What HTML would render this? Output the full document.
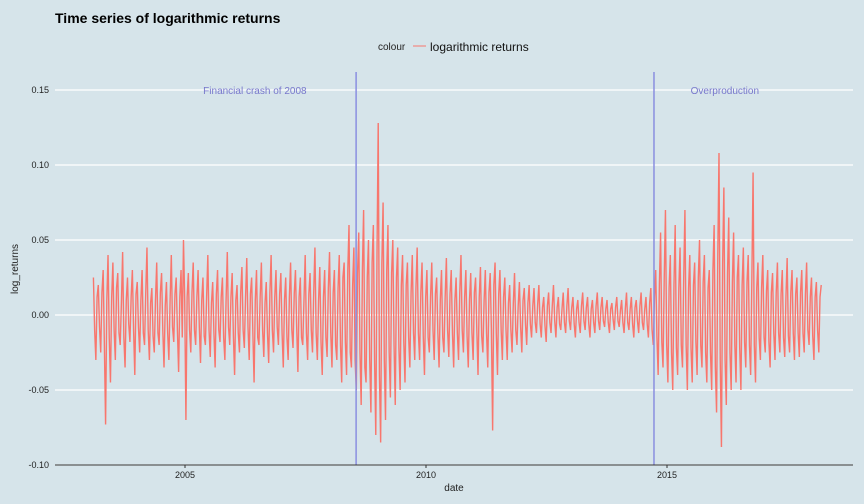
<!DOCTYPE html>
<html><head><meta charset="utf-8"><style>
body{margin:0;background:#d6e4ea;font-family:"Liberation Sans",sans-serif}
svg{display:block}
</style></head><body>
<svg id="c" width="864" height="504">
<rect width="864" height="504" fill="#d6e4ea"/>
<text x="55" y="23" font-size="14" font-weight="bold" fill="#000">Time series of logarithmic returns</text>
<g>
<text x="378" y="50" font-size="10" fill="#222">colour</text>
<line x1="413" y1="46" x2="426" y2="46" stroke="#f8766d" stroke-width="1"/>
<text x="430" y="51" font-size="12" fill="#111">logarithmic returns</text>
</g>
<g id="grid"></g><g id="series"></g><g id="ann"></g><g id="axes"></g>
<text x="454" y="491" font-size="10" text-anchor="middle" fill="#222">date</text>
<text transform="translate(18,269) rotate(-90)" font-size="10" text-anchor="middle" fill="#222">log_returns</text>
</svg>
<script>
const startYear=2003.1, endYear=2018.2;
const yTicks=[0.15,0.10,0.05,0.00,-0.05,-0.10];
const yTickLabels=["0.15","0.10","0.05","0.00","-0.05","-0.10"];
const xTicks=[2005,2010,2015];
const eventYears=[2008.55,2014.73];
const eventLabels=["Financial crash of 2008","Overproduction"];
const eventLabelYears=[2006.45,2016.2];
const returns=[0.025,-0.03,0.02,-0.025,0.03,-0.073,0.04,-0.045,0.035,-0.03,
0.028,-0.02,0.042,-0.035,0.025,-0.018,0.03,-0.04,0.022,-0.025,
0.03,-0.02,0.045,-0.03,0.018,-0.025,0.035,-0.02,0.028,-0.035,
0.022,-0.03,0.04,-0.018,0.025,-0.038,0.03,0.05,-0.07,0.028,
-0.025,0.035,-0.02,0.03,-0.032,0.025,-0.02,0.04,-0.028,0.022,
-0.035,0.03,-0.018,0.025,-0.03,0.042,-0.02,0.028,-0.04,0.02,
-0.025,0.032,-0.022,0.038,-0.03,0.025,-0.045,0.03,-0.02,0.035,
-0.028,0.022,-0.032,0.04,-0.025,0.03,-0.02,0.028,-0.035,0.025,
-0.03,0.035,-0.022,0.03,-0.038,0.025,-0.02,0.04,-0.03,0.028,
-0.025,0.045,-0.03,0.032,-0.04,0.03,-0.028,0.042,-0.035,0.03,
-0.03,0.04,-0.045,0.035,-0.04,0.06,-0.035,0.045,-0.05,0.055,
-0.06,0.07,-0.045,0.05,-0.065,0.06,-0.08,0.128,-0.085,0.075,
-0.07,0.06,-0.055,0.05,-0.06,0.045,-0.05,0.04,-0.045,0.035,
-0.035,0.04,-0.03,0.045,-0.03,0.035,-0.04,0.03,-0.025,0.035,
-0.03,0.025,-0.035,0.03,-0.025,0.038,-0.028,0.03,-0.035,0.025,
-0.03,0.04,-0.025,0.03,-0.035,0.028,-0.03,0.025,-0.04,0.032,
-0.025,0.03,-0.035,0.028,-0.077,0.035,-0.04,0.03,-0.03,0.025,
-0.03,0.02,-0.025,0.028,-0.02,0.022,-0.025,0.018,-0.02,0.02,
-0.015,0.018,-0.012,0.02,-0.015,0.012,-0.018,0.015,-0.012,0.02,
-0.015,0.012,-0.01,0.015,-0.012,0.018,-0.01,0.012,-0.015,0.01,
-0.012,0.015,-0.01,0.012,-0.015,0.01,-0.012,0.015,-0.01,0.012,
-0.008,0.01,-0.012,0.008,-0.01,0.012,-0.008,0.01,-0.012,0.015,
-0.01,0.012,-0.015,0.01,-0.012,0.015,-0.01,0.012,-0.015,0.018,
-0.02,0.03,-0.04,0.055,-0.035,0.07,-0.045,0.04,-0.05,0.06,
-0.04,0.045,-0.035,0.07,-0.05,0.04,-0.045,0.035,-0.04,0.05,
-0.035,0.04,-0.045,0.03,-0.05,0.06,-0.065,0.108,-0.088,0.085,
-0.06,0.065,-0.05,0.055,-0.045,0.04,-0.05,0.045,-0.035,0.04,
-0.04,0.095,-0.045,0.035,-0.03,0.04,-0.025,0.03,-0.035,0.028,
-0.03,0.035,-0.025,0.03,-0.028,0.038,-0.025,0.03,-0.03,0.025,
-0.028,0.03,-0.025,0.035,-0.02,0.025,-0.03,0.022,-0.025,0.02];
const returnsMid=[-0.01,0.012,-0.008,0.015,-0.02,0.01,-0.015,0.012,-0.01,0.018,
-0.012,0.008,-0.015,0.01,-0.006,0.012,-0.01,0.014,-0.008,0.01,
-0.012,0.015,-0.01,0.008,-0.014,0.01,-0.012,0.015,-0.01,0.006,
-0.012,0.01,-0.008,0.014,-0.01,0.012,-0.015,0.01,0.012,-0.01,
0.015,-0.01,0.012,-0.008,0.01,-0.014,0.012,-0.01,0.008,-0.012,
0.014,-0.01,0.012,-0.015,0.01,-0.008,0.012,-0.014,0.01,-0.012,
0.015,-0.01,0.012,-0.008,0.014,-0.012,0.01,-0.015,0.012,-0.01,
0.008,-0.012,0.015,-0.01,0.012,-0.008,0.014,-0.012,0.01,-0.015,
0.012,-0.01,0.014,-0.008,0.012,-0.015,0.01,-0.012,0.014,-0.01,
0.015,-0.012,0.01,-0.018,0.012,-0.015,0.018,-0.012,0.015,-0.02,
0.018,-0.02,0.025,-0.018,0.03,-0.025,0.02,-0.03,0.028,-0.025,
0.03,-0.035,0.025,-0.03,0.035,-0.03,0.04,-0.04,0.035,-0.03,
0.03,-0.025,0.028,-0.02,0.025,-0.022,0.02,-0.018,0.02,-0.015,
0.015,-0.012,0.018,-0.012,0.015,-0.014,0.012,-0.015,0.012,-0.01,
0.014,-0.012,0.01,-0.015,0.012,-0.01,0.014,-0.012,0.01,-0.012,
0.015,-0.01,0.012,-0.014,0.01,-0.012,0.015,-0.01,0.012,-0.014,
0.01,-0.012,0.015,-0.01,0.02,-0.012,0.014,-0.01,0.012,-0.01,
0.008,-0.01,0.008,-0.01,0.006,-0.008,0.01,-0.006,0.008,-0.006,
0.006,-0.005,0.007,-0.006,0.005,-0.007,0.006,-0.005,0.006,-0.004,
0.005,-0.006,0.004,-0.005,0.006,-0.004,0.005,-0.006,0.004,-0.005,
0.006,-0.004,0.005,-0.006,0.004,-0.005,0.006,-0.004,0.005,-0.004,
0.004,-0.005,0.004,-0.003,0.005,-0.004,0.003,-0.005,0.004,-0.005,
0.004,-0.006,0.005,-0.004,0.006,-0.005,0.004,-0.006,0.008,-0.01,
0.012,-0.015,0.02,-0.018,0.025,-0.02,0.018,-0.025,0.02,-0.022,
0.018,-0.02,0.025,-0.02,0.018,-0.022,0.02,-0.018,0.025,-0.02,
0.022,-0.025,0.018,-0.025,0.03,-0.035,0.04,-0.03,0.035,-0.03,
0.028,-0.025,0.022,-0.02,0.025,-0.022,0.02,-0.018,0.022,-0.02,
0.025,-0.02,0.018,-0.015,0.018,-0.015,0.016,-0.018,0.015,-0.012,
0.015,-0.012,0.014,-0.015,0.012,-0.014,0.015,-0.012,0.014,-0.012,
0.015,-0.012,0.014,-0.01,0.012,-0.014,0.012,-0.01,0.012,-0.01];

const NS='http://www.w3.org/2000/svg';
const L=55,R=853,T=72,B=465;
const xs=y=>185+(y-2005)*48.2;
const ys=v=>315-v*1500;
function mk(tag,attrs,parent){const e=document.createElementNS(NS,tag);for(const k in attrs)e.setAttribute(k,attrs[k]);parent.appendChild(e);return e;}
const grid=document.getElementById('grid'),axes=document.getElementById('axes'),ser=document.getElementById('series'),ann=document.getElementById('ann');
yTicks.forEach((t,i)=>{
  const g=mk('line',{x1:L,x2:R,y1:ys(t),y2:ys(t),stroke:'#fff','stroke-width':1.2},grid);
  
  
  const tx=mk('text',{x:L-6,y:ys(t)+3,'font-size':9,'text-anchor':'end',fill:'#222'},axes);
  tx.textContent=yTickLabels[i];
  
  
});
const n=returns.length;
const step=(endYear-startYear)/(n-1);
const pts=[];
returns.forEach((v,i)=>{
  const yr=startYear+i*step;
  pts.push(xs(yr).toFixed(2)+','+ys(v).toFixed(1));
  if(i<n-1 && returnsMid[i]!==undefined){
    pts.push(xs(yr+step*0.5).toFixed(2)+','+ys(returnsMid[i]).toFixed(1));
  }
});
const pl=mk('polyline',{points:pts.join(' '),fill:'none',stroke:'#f8766d','stroke-width':1.4,'stroke-linejoin':'miter'},ser);


eventYears.forEach((y,i)=>{
  const l=mk('line',{x1:xs(y),x2:xs(y),y1:T,y2:B,stroke:'#8a8fe0','stroke-width':1.5},ann);
  
  
  const t=mk('text',{x:xs(eventLabelYears[i]),y:94,'font-size':10,'text-anchor':'middle',fill:'#7777cc'},ann);
  t.textContent=eventLabels[i];
  
  
});
const ax=mk('line',{x1:L,x2:R,y1:B,y2:B,stroke:'#333','stroke-width':1},axes);


xTicks.forEach(t=>{
  const tk=mk('line',{x1:xs(t),x2:xs(t),y1:B,y2:B+3,stroke:'#333'},axes);
  
  
  const tx=mk('text',{x:xs(t),y:B+13,'font-size':9,'text-anchor':'middle',fill:'#222'},axes);
  tx.textContent=t;
  
  
});
</script>
</body></html>
